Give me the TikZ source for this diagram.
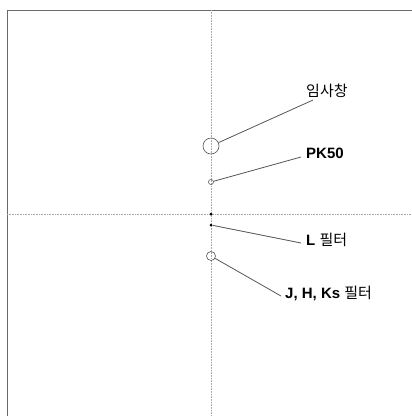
\documentclass[tikz,border=0pt]{standalone}
\usepackage{fontspec}
\setmainfont{Liberation Sans}
\newfontfamily\kr{Noto Sans CJK KR}
\usepackage{xcolor}
\usetikzlibrary{positioning}
\definecolor{frame}{HTML}{6A6A6A}
\definecolor{guide}{HTML}{A8A8A8}
\definecolor{lead}{HTML}{555555}
\begin{document}
\begin{tikzpicture}[x=1pt,y=-1pt,font=\fontsize{15}{18}\selectfont,
  ring/.style={draw=lead,line width=0.6pt,circle,inner sep=0pt},
  spot/.style={fill=black,circle,inner sep=0pt,minimum size=3pt},
  lbl/.style={inner sep=1pt,anchor=west},
  wire/.style={lead,line width=0.8pt}]
\useasboundingbox (0,0) rectangle (412,416);
% frame and cross hairs
\draw[frame,line width=0.8pt] (7,416) |- (412,10);
\draw[guide,densely dotted,line width=0.6pt] (211,10) -- (211,416);
\draw[guide,densely dotted,line width=0.6pt] (7,214) -- (412,214);
% marks on the axis
\node[ring,minimum size=16pt](win) at (211,146) {};
\node[ring,minimum size=5pt](pk) at (211,182) {};
\node[spot](ctr) at (211,214) {};
\node[spot](lf) at (211,225) {};
\node[ring,minimum size=9pt](jhk) at (211,256) {};
% labels
\node[lbl](winlbl) at (305,91) {\kr 임사창};
\node[lbl](pklbl) at (305,153) {\bfseries PK50};
\node[lbl](lflbl) at (305,240) {\bfseries L {\mdseries\kr 필터}};
\node[lbl](jhklbl) at (284,293) {\bfseries J, H, Ks {\mdseries\kr 필터}};
\draw[wire](win)--([xshift=8pt,yshift=-1pt]winlbl.south west);
\draw[wire](pk)--([xshift=-4pt,yshift=-4pt]pklbl.west);
\draw[wire](lf)--([xshift=-4pt,yshift=-3pt]lflbl.west);
\draw[wire](jhk)--([xshift=-3pt,yshift=-3pt]jhklbl.west);
\end{tikzpicture}
\end{document}
